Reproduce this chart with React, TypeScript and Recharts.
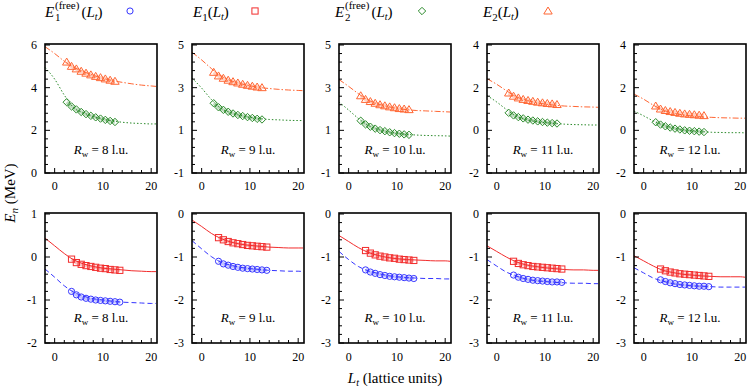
import React from "react";
import { ComposedChart, Line, Scatter, XAxis, YAxis } from "recharts";

const rw = [8, 9, 10, 11, 12];
const ltTop = [2.5, 3.5, 4.5, 5.5, 6.5, 7.5, 8.5, 9.5, 10.5, 11.5, 12.5];
const ltBottom = [3.5, 4.5, 5.5, 6.5, 7.5, 8.5, 9.5, 10.5, 11.5, 12.5, 13.5];
const ltFit = [-2, 0, 2, 4, 6, 8, 10, 12, 14, 16, 18, 20, 21];

// top row: E2 (triangles) and E2 free (diamonds)
const e2Pts = [
  [5.2, 5.0, 4.88, 4.77, 4.68, 4.6, 4.53, 4.47, 4.41, 4.35, 4.3],
  [3.72, 3.55, 3.44, 3.35, 3.28, 3.22, 3.16, 3.11, 3.07, 3.03, 3.0],
  [2.62, 2.45, 2.35, 2.27, 2.2, 2.15, 2.1, 2.06, 2.02, 2.0, 1.97],
  [1.75, 1.6, 1.52, 1.45, 1.4, 1.36, 1.32, 1.29, 1.26, 1.24, 1.21],
  [1.14, 1.0, 0.93, 0.88, 0.84, 0.8, 0.77, 0.75, 0.73, 0.71, 0.69],
];
const e2Fit = [
  [5.92, 5.6, 5.24, 4.95, 4.75, 4.58, 4.44, 4.33, 4.25, 4.18, 4.12, 4.08, 4.06],
  [4.66, 4.3, 3.9, 3.55, 3.33, 3.19, 3.09, 3.01, 2.96, 2.92, 2.89, 2.87, 2.86],
  [3.38, 3.06, 2.72, 2.42, 2.24, 2.12, 2.03, 1.97, 1.93, 1.91, 1.89, 1.87, 1.86],
  [2.42, 2.16, 1.86, 1.58, 1.42, 1.31, 1.23, 1.18, 1.14, 1.12, 1.1, 1.09, 1.08],
  [1.7, 1.46, 1.18, 0.95, 0.81, 0.73, 0.67, 0.63, 0.61, 0.59, 0.58, 0.57, 0.57],
];
const e2FreePts = [
  [3.32, 3.12, 2.98, 2.86, 2.76, 2.68, 2.61, 2.55, 2.49, 2.44, 2.39],
  [2.27, 2.08, 1.96, 1.87, 1.79, 1.72, 1.67, 1.62, 1.58, 1.54, 1.51],
  [1.45, 1.28, 1.17, 1.08, 1.01, 0.96, 0.91, 0.87, 0.84, 0.81, 0.79],
  [0.82, 0.7, 0.62, 0.56, 0.5, 0.46, 0.42, 0.39, 0.36, 0.34, 0.32],
  [0.38, 0.27, 0.19, 0.13, 0.08, 0.04, 0.0, -0.02, -0.04, -0.06, -0.08],
];
const e2FreeFit = [
  [4.95, 4.4, 3.65, 3.05, 2.82, 2.65, 2.53, 2.44, 2.38, 2.34, 2.32, 2.3, 2.3],
  [3.45, 2.98, 2.45, 2.03, 1.83, 1.7, 1.61, 1.55, 1.51, 1.49, 1.47, 1.46, 1.46],
  [2.33, 1.95, 1.56, 1.24, 1.05, 0.94, 0.86, 0.81, 0.78, 0.76, 0.75, 0.74, 0.73],
  [1.63, 1.33, 0.98, 0.67, 0.51, 0.42, 0.36, 0.32, 0.29, 0.27, 0.26, 0.25, 0.25],
  [0.9, 0.68, 0.44, 0.25, 0.12, 0.03, -0.02, -0.06, -0.09, -0.1, -0.11, -0.11, -0.12],
];

// bottom row: E1 (squares) and E1 free (circles)
const e1Pts = [
  [-0.05, -0.13, -0.17, -0.2, -0.22, -0.24, -0.26, -0.27, -0.29, -0.3, -0.31],
  [-0.55, -0.6, -0.64, -0.67, -0.69, -0.71, -0.73, -0.74, -0.75, -0.76, -0.77],
  [-0.85, -0.91, -0.95, -0.98, -1.0, -1.02, -1.03, -1.05, -1.06, -1.07, -1.08],
  [-1.1, -1.15, -1.18, -1.2, -1.22, -1.23, -1.24, -1.25, -1.26, -1.27, -1.28],
  [-1.28, -1.32, -1.35, -1.37, -1.39, -1.4, -1.41, -1.42, -1.43, -1.44, -1.45],
];
const e1Fit = [
  [0.44, 0.26, 0.08, -0.07, -0.16, -0.22, -0.26, -0.28, -0.3, -0.32, -0.33, -0.34, -0.34],
  [-0.14, -0.29, -0.45, -0.57, -0.65, -0.7, -0.73, -0.75, -0.77, -0.78, -0.79, -0.79, -0.79],
  [-0.5, -0.64, -0.78, -0.89, -0.96, -1.01, -1.04, -1.06, -1.07, -1.08, -1.09, -1.09, -1.1],
  [-0.74, -0.87, -1.0, -1.11, -1.18, -1.22, -1.25, -1.27, -1.29, -1.3, -1.3, -1.31, -1.31],
  [-0.97, -1.09, -1.21, -1.31, -1.36, -1.4, -1.42, -1.44, -1.45, -1.46, -1.46, -1.46, -1.47],
];
const e1FreePts = [
  [-0.8, -0.88, -0.93, -0.96, -0.98, -1.0, -1.01, -1.02, -1.03, -1.04, -1.05],
  [-1.1, -1.16, -1.19, -1.22, -1.24, -1.26, -1.27, -1.28, -1.29, -1.3, -1.31],
  [-1.3, -1.35, -1.38, -1.41, -1.43, -1.45, -1.46, -1.47, -1.48, -1.49, -1.5],
  [-1.42, -1.47, -1.5, -1.52, -1.54, -1.55, -1.56, -1.57, -1.58, -1.58, -1.59],
  [-1.53, -1.57, -1.6, -1.62, -1.64, -1.65, -1.66, -1.67, -1.68, -1.68, -1.69],
];
const e1FreeFit = [
  [-0.28, -0.47, -0.67, -0.82, -0.91, -0.97, -1.0, -1.03, -1.05, -1.06, -1.07, -1.08, -1.08],
  [-0.62, -0.81, -0.99, -1.12, -1.19, -1.24, -1.27, -1.29, -1.31, -1.32, -1.33, -1.33, -1.34],
  [-0.87, -1.06, -1.22, -1.32, -1.38, -1.43, -1.46, -1.48, -1.49, -1.5, -1.5, -1.51, -1.51],
  [-1.06, -1.21, -1.35, -1.44, -1.51, -1.55, -1.57, -1.59, -1.6, -1.61, -1.61, -1.62, -1.62],
  [-1.25, -1.37, -1.49, -1.56, -1.62, -1.65, -1.67, -1.68, -1.69, -1.7, -1.7, -1.7, -1.7],
];

const topDomains = [[0, 6], [-1, 5], [-1, 5], [-2, 4], [-2, 4]];
const bottomDomains = [[-2, 1], [-3, 0], [-3, 0], [-3, 0], [-3, 0]];
const topMajors = [[0, 2, 4, 6], [-1, 1, 3, 5], [-1, 1, 3, 5], [-2, 0, 2, 4], [-2, 0, 2, 4]];
const bottomMajors = [[-2, -1, 0, 1], [-3, -2, -1, 0], [-3, -2, -1, 0], [-3, -2, -1, 0], [-3, -2, -1, 0]];
const xTicks = [0, 2, 4, 6, 8, 10, 12, 14, 16, 18, 20];
const xMajors = [0, 10, 20];
const xDomain = [-2, 21];

const colLeft = [45, 192, 339, 487, 634];
const FW = 112;
const PAD_L = 32;
const PAD_T = 10;
const PAD_R = 4;
const PAD_B = 26;
const SERIF = "'Liberation Serif', 'DejaVu Serif', serif";

const BLUE = "#3535ff";
const RED = "#f22c2c";
const GREEN = "#2a8a2a";
const ORANGE = "#ff6633";

type Pt = { x: number; y: number };
const toPts = (xs: number[], ys: number[]): Pt[] => xs.map((x, i) => ({ x, y: ys[i] }));

const steps = (d: number[], step: number) => {
  const n = Math.round((d[1] - d[0]) / step);
  return Array.from({ length: n + 1 }, (_, k) => +(d[0] + k * step).toFixed(3));
};

const isMajor = (v: number, majors: number[]) => majors.some((m) => Math.abs(m - v) < 1e-6);

// inward tick marks (as paths) plus labels on the bottom/left sides
const makeTick = (side: string, majors: number[], gap = 0) => (props: any) => {
  const { x, y, payload } = props;
  const v = payload.value;
  const major = isMajor(v, majors);
  const len = major ? 5 : 3;
  let d = "";
  if (side === "bottom") d = `M${x},${y}V${y - len}`;
  else if (side === "top") d = `M${x},${y}V${y + len}`;
  else if (side === "left") d = `M${x},${y}H${x + len}`;
  else d = `M${x},${y}H${x - len}`;
  let label = null;
  if (major && gap && side === "bottom")
    label = (
      <text x={x} y={y + gap} textAnchor="middle" fontSize={12} fontFamily={SERIF} fill="#000">
        {v}
      </text>
    );
  if (major && gap && side === "left")
    label = (
      <text x={x - gap} y={y + 4} textAnchor="end" fontSize={12} fontFamily={SERIF} fill="#000">
        {v}
      </text>
    );
  return (
    <g>
      <path d={d} stroke="#000" strokeWidth={1} fill="none" />
      {label}
    </g>
  );
};

const marker = (kind: string, cx: number, cy: number, color: string) => {
  const common = { fill: "none", stroke: color, strokeWidth: 1 };
  if (kind === "circle") return <circle cx={cx} cy={cy} r={3.1} {...common} />;
  if (kind === "square") return <rect x={cx - 3.1} y={cy - 3.1} width={6.2} height={6.2} {...common} />;
  if (kind === "diamond")
    return <polygon points={`${cx},${cy - 3.7} ${cx + 3.7},${cy} ${cx},${cy + 3.7} ${cx - 3.7},${cy}`} {...common} />;
  return <polygon points={`${cx},${cy - 4} ${cx + 4.2},${cy + 3} ${cx - 4.2},${cy + 3}`} {...common} />;
};

type Series = { pts: Pt[]; fit: Pt[]; color: string; dash?: string; kind: string };

const Panel = ({
  left,
  top,
  h,
  domain,
  majors,
  step,
  xLabelGap,
  series,
}: {
  left: number;
  top: number;
  h: number;
  domain: number[];
  majors: number[];
  step: number;
  xLabelGap: number;
  series: Series[];
}) => {
  const yTicks = steps(domain, step);
  return (
    <div style={{ position: "absolute", left: left - PAD_L, top: top - PAD_T }}>
      <ComposedChart
        width={PAD_L + FW + PAD_R}
        height={PAD_T + h + PAD_B}
        margin={{ top: PAD_T, right: PAD_R, left: 0, bottom: 0 }}
      >
        <XAxis
          dataKey="x"
          type="number"
          domain={xDomain}
          ticks={xTicks}
          interval={0}
          tickSize={0}
          tickMargin={0}
          tickLine={false}
          axisLine={false}
          height={PAD_B}
          tick={makeTick("bottom", xMajors, xLabelGap)}
        />
        <XAxis
          xAxisId="t"
          orientation="top"
          dataKey="x"
          type="number"
          domain={xDomain}
          ticks={xTicks}
          interval={0}
          tickSize={0}
          tickMargin={0}
          tickLine={false}
          axisLine={false}
          height={1}
          tick={makeTick("top", xMajors)}
        />
        <YAxis
          dataKey="y"
          type="number"
          domain={domain}
          ticks={yTicks}
          interval={0}
          tickSize={0}
          tickMargin={0}
          tickLine={false}
          axisLine={false}
          width={PAD_L}
          tick={makeTick("left", majors, 8)}
        />
        <YAxis
          yAxisId="r"
          orientation="right"
          dataKey="y"
          type="number"
          domain={domain}
          ticks={yTicks}
          interval={0}
          tickSize={0}
          tickMargin={0}
          tickLine={false}
          axisLine={false}
          width={1}
          tick={makeTick("right", majors)}
        />
        {series.map((s, i) => (
          <Line
            key={`band${i}`}
            data={s.pts}
            dataKey="y"
            type="monotone"
            stroke={s.color}
            strokeOpacity={0.3}
            strokeWidth={3.5}
            dot={false}
            activeDot={false}
            isAnimationActive={false}
          />
        ))}
        {series.map((s, i) => (
          <Line
            key={`fit${i}`}
            data={s.fit}
            dataKey="y"
            type="monotone"
            stroke={s.color}
            strokeWidth={1}
            strokeDasharray={s.dash}
            dot={false}
            activeDot={false}
            isAnimationActive={false}
          />
        ))}
        {series.map((s, i) => (
          <Scatter
            key={`pts${i}`}
            data={s.pts}
            dataKey="y"
            isAnimationActive={false}
            shape={(p: any) => marker(s.kind, p.cx, p.cy, s.color)}
          />
        ))}
      </ComposedChart>
    </div>
  );
};

const TOP_Y = 44;
const TOP_H = 129;
const BOT_Y = 213;
const BOT_H = 130;

export default function App() {
  return (
    <div style={{ position: "absolute", left: 0, top: 0, width: 747, height: 388, background: "#fff" }}>
      {rw.map((r, i) => (
        <Panel
          key={`top${r}`}
          left={colLeft[i]}
          top={TOP_Y}
          h={TOP_H}
          domain={topDomains[i]}
          majors={topMajors[i]}
          step={0.4}
          xLabelGap={17}
          series={[
            { pts: toPts(ltTop, e2Pts[i]), fit: toPts(ltFit, e2Fit[i]), color: ORANGE, dash: "6 2 1.5 2", kind: "triangle" },
            { pts: toPts(ltTop, e2FreePts[i]), fit: toPts(ltFit, e2FreeFit[i]), color: GREEN, dash: "1.5 2", kind: "diamond" },
          ]}
        />
      ))}
      {rw.map((r, i) => (
        <Panel
          key={`bot${r}`}
          left={colLeft[i]}
          top={BOT_Y}
          h={BOT_H}
          domain={bottomDomains[i]}
          majors={bottomMajors[i]}
          step={0.2}
          xLabelGap={18}
          series={[
            { pts: toPts(ltBottom, e1Pts[i]), fit: toPts(ltFit, e1Fit[i]), color: RED, kind: "square" },
            { pts: toPts(ltBottom, e1FreePts[i]), fit: toPts(ltFit, e1FreeFit[i]), color: BLUE, dash: "5 3", kind: "circle" },
          ]}
        />
      ))}
      <svg
        width={747}
        height={388}
        style={{ position: "absolute", left: 0, top: 0, pointerEvents: "none" }}
        fontFamily={SERIF}
      >
        {/* panel frames */}
        {colLeft.map((cl) =>
          [
            [TOP_Y, TOP_H],
            [BOT_Y, BOT_H],
          ].map(([ty, th]) => (
            <rect key={`f${cl}-${ty}`} x={cl} y={ty} width={FW} height={th} fill="none" stroke="#000" strokeWidth={1.6} />
          ))
        )}

        {/* legend */}
        <text x={45} y={17} fontSize={15}>
          <tspan fontStyle="italic">E</tspan>
          <tspan x={55} dy={4} fontSize={11}>1</tspan>
          <tspan x={55} dy={-12} fontSize={11}>(free)</tspan>
          <tspan dx={2} dy={8}>(</tspan>
          <tspan fontStyle="italic">L</tspan>
          <tspan fontStyle="italic" fontSize={10} dy={3}>t</tspan>
          <tspan dy={-3}>)</tspan>
        </text>
        {marker("circle", 130, 11, BLUE)}
        <text x={193} y={17} fontSize={15}>
          <tspan fontStyle="italic">E</tspan>
          <tspan fontSize={11} dy={4}>1</tspan>
          <tspan dy={-4}>(</tspan>
          <tspan fontStyle="italic">L</tspan>
          <tspan fontStyle="italic" fontSize={10} dy={3}>t</tspan>
          <tspan dy={-3}>)</tspan>
        </text>
        {marker("square", 255, 11, RED)}
        <text x={335} y={17} fontSize={15}>
          <tspan fontStyle="italic">E</tspan>
          <tspan x={345} dy={4} fontSize={11}>2</tspan>
          <tspan x={345} dy={-12} fontSize={11}>(free)</tspan>
          <tspan dx={2} dy={8}>(</tspan>
          <tspan fontStyle="italic">L</tspan>
          <tspan fontStyle="italic" fontSize={10} dy={3}>t</tspan>
          <tspan dy={-3}>)</tspan>
        </text>
        {marker("diamond", 422, 11, GREEN)}
        <text x={483} y={17} fontSize={15}>
          <tspan fontStyle="italic">E</tspan>
          <tspan fontSize={11} dy={4}>2</tspan>
          <tspan dy={-4}>(</tspan>
          <tspan fontStyle="italic">L</tspan>
          <tspan fontStyle="italic" fontSize={10} dy={3}>t</tspan>
          <tspan dy={-3}>)</tspan>
        </text>
        {marker("triangle", 548, 11, ORANGE)}

        {/* panel annotations */}
        {rw.map((r, i) =>
          [TOP_Y + 109.5, BOT_Y + 108.5].map((yy, j) => (
            <text key={`lab${r}-${j}`} x={colLeft[i] + FW / 2} y={yy} fontSize={13} textAnchor="middle">
              <tspan fontStyle="italic">R</tspan>
              <tspan fontSize={9} dy={3}>w</tspan>
              <tspan dy={-3}>{` = ${r} l.u.`}</tspan>
            </text>
          ))
        )}

        {/* axis titles */}
        <text transform="translate(15,193) rotate(-90)" fontSize={15} textAnchor="middle">
          <tspan fontStyle="italic">E</tspan>
          <tspan fontStyle="italic" fontSize={11} dy={3}>n</tspan>
          <tspan dy={-3}>{"  (MeV)"}</tspan>
        </text>
        <text x={395} y={383} fontSize={15} textAnchor="middle">
          <tspan fontStyle="italic">L</tspan>
          <tspan fontStyle="italic" fontSize={10} dy={3}>t</tspan>
          <tspan dy={-3}>{"  (lattice units)"}</tspan>
        </text>
      </svg>
    </div>
  );
}
